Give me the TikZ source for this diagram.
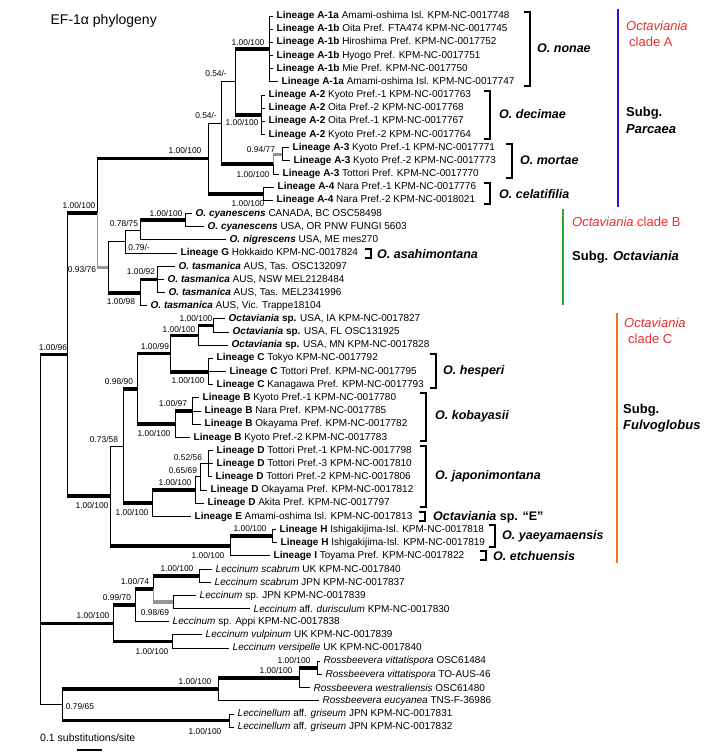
\documentclass[tikz,border=0pt]{standalone}
\usepackage{fontspec}
\setmainfont{Liberation Sans}
\usepackage{tikz}
\usetikzlibrary{positioning}

\definecolor{cladered}{RGB}{235,45,45}
\definecolor{cladeblue}{RGB}{35,25,200}
\definecolor{cladegreen}{RGB}{40,170,40}
\definecolor{cladeorange}{RGB}{240,115,35}
\definecolor{lowgray}{RGB}{150,150,150}

\newcommand{\lng}[2]{\textbf{Lineage #1} #2}
\newcommand{\spname}[1]{\textbf{\textit{#1}}}
\newcommand{\octsp}{\textbf{\textit{Octaviania} sp.}}
% branch: vertical from parent, then horizontal to child
\newcommand{\branch}[3]{%
  \draw[#1, vln] (#2) -- (#2 |- #3);
  \draw[#1] (#2 |- #3) -- (#3);}
% bracket for a species group
\newcommand{\clbrk}[3]{\draw[brk] (#1-6,#2) -- (#1,#2) -- (#1,#3) -- (#1-6,#3);}

\begin{document}
\begin{tikzpicture}[x=1pt, y=-1pt,
    vln/.style={line width=1pt},
    thn/.style={line width=1pt},
    thk/.style={line width=3.8pt},
    gry/.style={line width=3.2pt, lowgray},
    tip/.style={inner sep=0pt, font=\fontsize{10}{11}\selectfont},
    supp/.style={inner sep=0pt, font=\fontsize{8.4}{9}\selectfont},
    spc/.style={anchor=west, inner sep=0pt, font=\fontsize{12.5}{14}\selectfont\bfseries\itshape},
    brk/.style={line width=2.2pt},
    bar/.style={line width=2.8pt},
    side/.style={anchor=west, inner sep=0pt, font=\fontsize{13}{15}\selectfont}]

    \useasboundingbox (0,0) rectangle (711,755);

    % title
    \node[anchor=east, inner sep=0pt, font=\fontsize{14}{16}\selectfont] (title) at (157,21) {EF-1α phylogeny};

    % leaves
    \foreach \i/\x/\txt in {
        1/273/{\lng{A-1a}{Amami-oshima Isl. KPM-NC-0017748}},
        2/273/{\lng{A-1b}{Oita Pref. FTA474 KPM-NC-0017745}},
        3/273/{\lng{A-1b}{Hiroshima Pref. KPM-NC-0017752}},
        4/273/{\lng{A-1b}{Hyogo Pref. KPM-NC-0017751}},
        5/273/{\lng{A-1b}{Mie Pref. KPM-NC-0017750}},
        6/278/{\lng{A-1a}{Amami-oshima Isl. KPM-NC-0017747}},
        7/265/{\lng{A-2}{Kyoto Pref.-1 KPM-NC-0017763}},
        8/265/{\lng{A-2}{Oita Pref.-2 KPM-NC-0017768}},
        9/265/{\lng{A-2}{Oita Pref.-1 KPM-NC-0017767}},
        10/265/{\lng{A-2}{Kyoto Pref.-2 KPM-NC-0017764}},
        11/289/{\lng{A-3}{Kyoto Pref.-1 KPM-NC-0017771}},
        12/290/{\lng{A-3}{Kyoto Pref.-2 KPM-NC-0017773}},
        13/279/{\lng{A-3}{Tottori Pref. KPM-NC-0017770}},
        14/274/{\lng{A-4}{Nara Pref.-1 KPM-NC-0017776}},
        15/273/{\lng{A-4}{Nara Pref.-2 KPM-NC-0018021}},
        16/192/{\spname{O. cyanescens} CANADA, BC OSC58498},
        17/204/{\spname{O. cyanescens} USA, OR PNW FUNGI 5603},
        18/226/{\spname{O. nigrescens} USA, ME mes270},
        19/177/{\lng{G}{Hokkaido KPM-NC-0017824}},
        20/175/{\spname{O. tasmanica} AUS, Tas. OSC132097},
        21/164/{\spname{O. tasmanica} AUS, NSW MEL2128484},
        22/165/{\spname{O. tasmanica} AUS, Tas. MEL2341996},
        23/147/{\spname{O. tasmanica} AUS, Vic. Trappe18104},
        24/225/{\octsp{} USA, IA KPM-NC-0017827},
        25/229/{\octsp{} USA, FL OSC131925},
        26/228/{\octsp{} USA, MN KPM-NC-0017828},
        27/213/{\lng{C}{Tokyo KPM-NC-0017792}},
        28/226/{\lng{C}{Tottori Pref. KPM-NC-0017795}},
        29/213/{\lng{C}{Kanagawa Pref. KPM-NC-0017793}},
        30/199/{\lng{B}{Kyoto Pref.-1 KPM-NC-0017780}},
        31/201/{\lng{B}{Nara Pref. KPM-NC-0017785}},
        32/201/{\lng{B}{Okayama Pref. KPM-NC-0017782}},
        33/190/{\lng{B}{Kyoto Pref.-2 KPM-NC-0017783}},
        34/213/{\lng{D}{Tottori Pref.-1 KPM-NC-0017798}},
        35/213/{\lng{D}{Tottori Pref.-3 KPM-NC-0017810}},
        36/212/{\lng{D}{Tottori Pref.-2 KPM-NC-0017806}},
        37/207/{\lng{D}{Okayama Pref. KPM-NC-0017812}},
        38/204/{\lng{D}{Akita Pref. KPM-NC-0017797}},
        39/191/{\lng{E}{Amami-oshima Isl. KPM-NC-0017813}},
        40/276/{\lng{H}{Ishigakijima-Isl. KPM-NC-0017818}},
        41/277/{\lng{H}{Ishigakijima-Isl. KPM-NC-0017819}},
        42/270/{\lng{I}{Toyama Pref. KPM-NC-0017822}},
        43/212/{\textit{Leccinum scabrum} UK KPM-NC-0017840},
        44/211/{\textit{Leccinum scabrum} JPN KPM-NC-0017837},
        45/196/{\textit{Leccinum} sp. JPN KPM-NC-0017839},
        46/250/{\textit{Leccinum} aff. \textit{durisculum} KPM-NC-0017830},
        47/169/{\textit{Leccinum} sp. Appi KPM-NC-0017838},
        48/202/{\textit{Leccinum vulpinum} UK KPM-NC-0017839},
        49/229/{\textit{Leccinum versipelle} UK KPM-NC-0017840},
        50/320/{\textit{Rossbeevera vittatispora} OSC61484},
        51/322/{\textit{Rossbeevera vittatispora} TO-AUS-46},
        52/310/{\textit{Rossbeevera westraliensis} OSC61480},
        53/319/{\textit{Rossbeevera eucyanea} TNS-F-36986},
        54/234/{\textit{Leccinellum} aff. \textit{griseum} JPN KPM-NC-0017831},
        55/234/{\textit{Leccinellum} aff. \textit{griseum} JPN KPM-NC-0017832}}{
        \coordinate (t\i) at (\x, {16+13.17*(\i-1)});
        \node[tip, right=3.5pt of t\i] (l\i) {\txt};
    }

    % internal nodes
    \coordinate (root) at (40,530);
    \coordinate (nA1) at (269,49);
    \coordinate (nA2) at (261,114.8);
    \coordinate (nA12) at (235,81.9);
    \coordinate (nA3s) at (282,154.3);
    \coordinate (nA3) at (273,164.2);
    \coordinate (nA123) at (221,123);
    \coordinate (nA4) at (263,193.8);
    \coordinate (nA) at (208,158.4);
    \coordinate (nCy) at (185,220.1);
    \coordinate (nCN) at (140,230);
    \coordinate (nCNG) at (125,241.6);
    \coordinate (nTs) at (157,279.4);
    \coordinate (nT) at (140,292.6);
    \coordinate (nB) at (108,267.1);
    \coordinate (nAB) at (97,212.7);
    \coordinate (nOs) at (213,325.5);
    \coordinate (nO) at (198,335.4);
    \coordinate (nCc) at (208,371.6);
    \coordinate (nOC) at (170,353.5);
    \coordinate (nBs) at (192,411.1);
    \coordinate (nBc) at (175,424.2);
    \coordinate (nOCB) at (137,388.9);
    \coordinate (nD3) at (208,463.8);
    \coordinate (nD2) at (200,476.9);
    \coordinate (nD) at (195,490.1);
    \coordinate (nDE) at (152,503.3);
    \coordinate (nX) at (123,446.1);
    \coordinate (nH) at (272,536.2);
    \coordinate (nHI) at (230,546);
    \coordinate (nCl) at (110,496);
    \coordinate (nOct) at (67,354.4);
    \coordinate (nLs) at (199,575.7);
    \coordinate (nLd) at (173,602);
    \coordinate (nL74) at (153,588.9);
    \coordinate (nL70) at (135,605.3);
    \coordinate (nLv) at (172,641.5);
    \coordinate (nL) at (113,623.4);
    \coordinate (nRv) at (317,667.8);
    \coordinate (nRw) at (299,677.7);
    \coordinate (nR) at (218,689.3);
    \coordinate (nLl) at (229,720.5);
    \coordinate (nRL) at (62,704.9);

    % terminal branches
    \foreach \p/\c in {nA1/t1, nA1/t2, nA1/t3, nA1/t4, nA1/t5, nA1/t6,
        nA2/t7, nA2/t8, nA2/t9, nA2/t10, nA3s/t11, nA3s/t12, nA3/t13,
        nA4/t14, nA4/t15, nCy/t16, nCy/t17, nCN/t18, nCNG/t19,
        nTs/t20, nTs/t21, nTs/t22, nT/t23, nOs/t24, nOs/t25, nO/t26,
        nCc/t27, nCc/t28, nCc/t29, nBs/t30, nBs/t31, nBs/t32, nBc/t33,
        nD3/t34, nD3/t35, nD3/t36, nD2/t37, nD/t38, nDE/t39,
        nH/t40, nH/t41, nHI/t42, nLs/t43, nLs/t44, nLd/t45, nLd/t46,
        nL70/t47, nLv/t48, nLv/t49, nRv/t50, nRv/t51, nRw/t52, nR/t53,
        nLl/t54, nLl/t55}
        \branch{thn}{\p}{\c};

    % well supported branches
    \foreach \p/\c in {nA12/nA1, nA12/nA2, nA123/nA3, nA/nA4, nAB/nA,
        nCN/nCy, nB/nT, nT/nTs, nOct/nAB, nO/nOs, nOC/nO, nOC/nCc,
        nOCB/nOC, nOCB/nBc, nBc/nBs, nX/nOCB, nDE/nD, nX/nDE, nCl/nHI,
        nHI/nH, nOct/nCl, root/nOct, nL74/nLs, nL70/nL74, nL/nL70,
        nL/nLv, root/nL, nR/nRw, nRw/nRv, nRL/nR, nRL/nLl}
        \branch{thk}{\p}{\c};

    % weak branches
    \foreach \p/\c in {nA123/nA12, nA/nA123, nCNG/nCN, nB/nCNG,
        nD2/nD3, nD/nD2, nCl/nX, root/nRL}
        \branch{thn}{\p}{\c};

    % intermediate support
    \foreach \p/\c in {nA3/nA3s, nAB/nB, nL74/nLd}
        \branch{gry}{\p}{\c};

    % support values
    \foreach \n/\x/\y/\v in {1/248/42/{1.00/100}, 2/216/73/{0.54/-},
        3/242/122/{1.00/100}, 4/206/115/{0.54/-}, 5/261/149/{0.94/77},
        6/253/174/{1.00/100}, 7/185/150/{1.00/100}, 8/248/203/{1.00/100},
        9/79/205/{1.00/100}, 10/166/213/{1.00/100}, 11/124/223/{0.78/75},
        12/139/247/{0.79/-}, 13/82/269/{0.93/76}, 14/141/271/{1.00/92},
        15/121/301/{1.00/98}, 16/196/318/{1.00/100}, 17/179/329/{1.00/100},
        18/155/346/{1.00/99}, 19/188/380/{1.00/100}, 20/119/381/{0.98/90},
        21/173/403/{1.00/97}, 22/154/433/{1.00/100}, 23/104/439/{0.73/58},
        24/188/457/{0.52/56}, 25/183/470/{0.65/69}, 26/175/482/{1.00/100},
        27/132/512/{1.00/100}, 28/250/528/{1.00/100}, 29/208/555/{1.00/100},
        30/92/505/{1.00/100}, 31/53/347/{1.00/96}, 32/177/568/{1.00/100},
        33/135/581/{1.00/74}, 34/117/597/{0.99/70}, 35/155/612/{0.98/69},
        36/93/615/{1.00/100}, 37/152/651/{1.00/100}, 38/294/660/{1.00/100},
        39/276/670/{1.00/100}, 40/195/681/{1.00/100}, 41/80/706/{0.79/65},
        42/205/731/{1.00/100}}
        \node[supp] (s\n) at (\x,\y) {\v};

    % species brackets
    \clbrk{530}{12}{86}
    \clbrk{490}{91}{139}
    \clbrk{512}{144}{178}
    \clbrk{490}{183}{204}
    \clbrk{371}{249}{258}
    \clbrk{436}{354}{388}
    \clbrk{426}{393}{441}
    \clbrk{426}{446}{507}
    \clbrk{425}{512}{521}
    \clbrk{495}{525}{547}
    \clbrk{486}{551}{560}

    \node[spc] (nonae) at (537,48) {O. nonae};
    \node[spc] (decimae) at (499,114) {O. decimae};
    \node[spc] (mortae) at (520,160) {O. mortae};
    \node[spc] (celat) at (499,194) {O. celatifilia};
    \node[spc] (asahi) at (377,254) {O. asahimontana};
    \node[spc] (hesperi) at (443,371) {O. hesperi};
    \node[spc] (kobay) at (435,416) {O. kobayasii};
    \node[spc] (japon) at (435,476) {O. japonimontana};
    \node[spc] (octE) at (433,517) {Octaviania \upshape sp. “E”};
    \node[spc] (yaey) at (502,536) {O. yaeyamaensis};
    \node[spc] (etchu) at (493,556) {O. etchuensis};

    % clades and subgenera
    \draw[bar, cladeblue] (618,9) -- (618,207);
    \draw[bar, cladegreen] (563,209) -- (563,305);
    \draw[bar, cladeorange] (617,313) -- (617,563);

    \node[side, cladered] (cladeA1) at (626,26) {\textit{Octaviania}};
    \node[side, cladered] (cladeA2) at (629,42) {clade A};
    \node[side] (subgA1) at (626,113) {\bfseries Subg.};
    \node[side] (subgA2) at (626,129) {\bfseries\itshape Parcaea};
    \node[side, cladered] (cladeB) at (572,222) {\textit{Octaviania} clade B};
    \node[side] (subgB) at (572,257) {\bfseries Subg. \textit{Octaviania}};
    \node[side, cladered] (cladeC1) at (624,323) {\textit{Octaviania}};
    \node[side, cladered] (cladeC2) at (628,339) {clade C};
    \node[side] (subgC1) at (623,410) {\bfseries Subg.};
    \node[side] (subgC2) at (623,426) {\bfseries\itshape Fulvoglobus};

    % scale bar
    \node[anchor=west, inner sep=0pt, font=\fontsize{10.5}{12}\selectfont] (scale) at (40,738) {0.1 substitutions/site};
    \coordinate (sb1) at (77,750);
    \coordinate (sb2) at (102,750);
    \draw[line width=1.2pt] (sb1) -- (sb2);
\end{tikzpicture}
\end{document}
